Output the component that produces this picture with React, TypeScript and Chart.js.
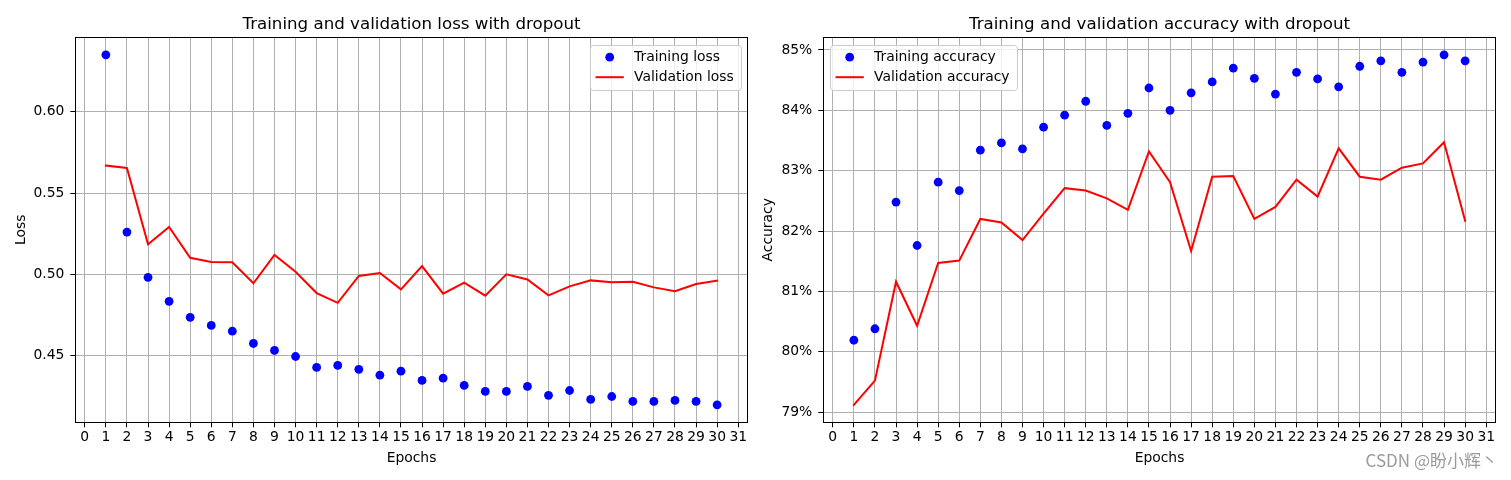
import React, { useEffect, useRef } from "react";
import { Chart, registerables } from "chart.js";

Chart.register(...registerables);

// ---------------- data ----------------
const epochs = [1, 2, 3, 4, 5, 6, 7, 8, 9, 10, 11, 12, 13, 14, 15, 16, 17, 18, 19, 20, 21, 22, 23, 24, 25, 26, 27, 28, 29, 30];

const trainLoss = [
  0.6351, 0.5261, 0.4983, 0.4835, 0.4737, 0.4687, 0.4652, 0.4576, 0.4533, 0.4496,
  0.4429, 0.4441, 0.4417, 0.4381, 0.4406, 0.4349, 0.4363, 0.4318, 0.4281, 0.4281,
  0.4312, 0.4257, 0.4287, 0.4232, 0.4250, 0.4220, 0.4220, 0.4226, 0.4220, 0.4199,
];

const valLoss = [
  0.5670, 0.5655, 0.5186, 0.5292, 0.5103, 0.5077, 0.5075, 0.4946, 0.5120, 0.5017,
  0.4886, 0.4826, 0.4991, 0.5009, 0.4909, 0.5052, 0.4882, 0.4950, 0.4870, 0.5001,
  0.4970, 0.4872, 0.4927, 0.4964, 0.4952, 0.4956, 0.4921, 0.4897, 0.4942, 0.4962,
];

const trainAcc = [
  0.8019, 0.8038, 0.8248, 0.8176, 0.8281, 0.8267, 0.8334, 0.8346, 0.8336, 0.8372,
  0.8392, 0.8415, 0.8375, 0.8395, 0.8437, 0.8400, 0.8429, 0.8447, 0.8470, 0.8453,
  0.8427, 0.8463, 0.8452, 0.8439, 0.8473, 0.8482, 0.8463, 0.8480, 0.8492, 0.8482,
];

const valAcc = [
  0.7912, 0.7952, 0.8116, 0.8043, 0.8147, 0.8151, 0.8220, 0.8214, 0.8185, 0.8229,
  0.8271, 0.8267, 0.8254, 0.8235, 0.8332, 0.8281, 0.8167, 0.8290, 0.8291, 0.8220,
  0.8240, 0.8285, 0.8257, 0.8337, 0.8290, 0.8285, 0.8305, 0.8312, 0.8347, 0.8217,
];

const epochTicks = [0, 1, 2, 3, 4, 5, 6, 7, 8, 9, 10, 11, 12, 13, 14, 15, 16, 17, 18, 19, 20, 21, 22, 23, 24, 25, 26, 27, 28, 29, 30, 31];
const lossTicks = [0.45, 0.5, 0.55, 0.6];
const accTicks = [0.79, 0.8, 0.81, 0.82, 0.83, 0.84, 0.85];

const lossTitle = "Training and validation loss with dropout";
const accTitle = "Training and validation accuracy with dropout";
const watermarkText = "CSDN @盼小辉丶";

// ---------------- style ----------------
const FONT = "'DejaVu Sans', 'Noto Sans', sans-serif";
const TICK_SIZE = 13.89;
const TITLE_SIZE = 16.67;

Chart.defaults.font.family = FONT;
Chart.defaults.font.size = TICK_SIZE;
Chart.defaults.color = "#000";

function autoRange(values: number[]): [number, number] {
  const lo = Math.min(...values);
  const hi = Math.max(...values);
  const m = (hi - lo) * 0.05;
  return [lo - m, hi + m];
}

const framePlugin = {
  id: "frame",
  afterDraw(chart: any) {
    const { ctx, chartArea: a } = chart;
    ctx.save();
    ctx.strokeStyle = "#000";
    ctx.lineWidth = 1;
    const l = Math.floor(a.left) + 0.5;
    const t = Math.floor(a.top) + 0.5;
    const r = Math.floor(a.right) + 0.5;
    const b = Math.floor(a.bottom) + 0.5;
    ctx.strokeRect(l, t, r - l, b - t);
    ctx.restore();
  },
};

const legendPlugin = {
  id: "mplLegend",
  afterDraw(chart: any, _args: any, opts: any) {
    if (!opts || !opts.corner) return;
    const { ctx, chartArea: a } = chart;
    const ds = chart.data.datasets;
    ctx.save();
    ctx.font = `${TICK_SIZE}px ${FONT}`;
    const tw = Math.max(...ds.map((d: any) => ctx.measureText(d.label).width));
    const w = Math.round(44 + tw + 7);
    const h = 45;
    const left = Math.round(opts.corner === "right" ? a.right - 7 - w : a.left + 7) + 0.5;
    const top = Math.round(a.top + 7.4) + 0.5;
    ctx.beginPath();
    (ctx as any).roundRect(left, top, w, h, 3);
    ctx.fillStyle = "rgba(255,255,255,0.8)";
    ctx.fill();
    ctx.strokeStyle = "#cccccc";
    ctx.lineWidth = 1;
    ctx.stroke();
    ds.forEach((d: any, i: number) => {
      const y = top + 11.7 + 20 * i;
      if (d.showLine === false) {
        ctx.beginPath();
        ctx.arc(left + 19.2, y, d.pointRadius, 0, Math.PI * 2);
        ctx.fillStyle = d.pointBackgroundColor;
        ctx.fill();
      } else {
        ctx.beginPath();
        ctx.moveTo(left + 5, y);
        ctx.lineTo(left + 33.3, y);
        ctx.strokeStyle = d.borderColor;
        ctx.lineWidth = d.borderWidth;
        ctx.stroke();
      }
      ctx.fillStyle = "#000";
      ctx.textAlign = "left";
      ctx.textBaseline = "middle";
      ctx.fillText(d.label, left + 43.5, y + 0.5);
    });
    ctx.restore();
  },
};

const watermarkPlugin = {
  id: "watermark",
  afterDraw(chart: any, _args: any, opts: any) {
    if (!opts || !opts.text) return;
    const ctx = chart.ctx;
    ctx.save();
    ctx.font = `17px "Noto Sans CJK SC", "DejaVu Sans", sans-serif`;
    ctx.fillStyle = "rgba(150,150,150,0.95)";
    ctx.textAlign = "right";
    ctx.textBaseline = "middle";
    ctx.fillText(opts.text, opts.x, opts.y);
    ctx.restore();
  },
};

type Panel = {
  title: string;
  train: number[];
  val: number[];
  trainLabel: string;
  valLabel: string;
  yLabel: string;
  yTicks: number[];
  yFormat: (v: number) => string;
  yAxisWidth: number;
  yTitlePad: number;
  padRight: number;
  corner: "left" | "right";
  watermark?: { text: string; x: number; y: number };
};

function makeChart(canvas: HTMLCanvasElement, p: Panel) {
  const [ymin, ymax] = autoRange([...p.train, ...p.val]);
  const [xmin, xmax] = autoRange(epochs);
  const font = { family: FONT, size: TICK_SIZE, lineHeight: 1.2 };
  return new Chart(canvas, {
    type: "line",
    data: {
      datasets: [
        {
          label: p.trainLabel,
          data: epochs.map((e, i) => ({ x: e, y: p.train[i] })),
          showLine: false,
          pointRadius: 4.4,
          pointBackgroundColor: "#0000ff",
          pointBorderColor: "#0000ff",
          pointBorderWidth: 0,
          borderColor: "#0000ff",
          backgroundColor: "#0000ff",
        },
        {
          label: p.valLabel,
          data: epochs.map((e, i) => ({ x: e, y: p.val[i] })),
          borderColor: "#ff0000",
          backgroundColor: "#ff0000",
          borderWidth: 2,
          pointRadius: 0,
          fill: false,
          tension: 0,
          borderCapStyle: "square",
        },
      ],
    },
    options: {
      responsive: false,
      animation: false,
      events: [],
      layout: { padding: { left: 0, right: p.padRight, top: 0, bottom: 0 } },
      plugins: {
        legend: { display: false },
        tooltip: { enabled: false },
        title: {
          display: true,
          text: p.title,
          fullSize: false,
          color: "#000",
          font: { family: FONT, size: TITLE_SIZE, weight: "normal", lineHeight: 1.2 },
          padding: { top: 14.5, bottom: 2.8 },
        },
        mplLegend: { corner: p.corner },
        watermark: p.watermark || {},
      } as any,
      scales: {
        x: {
          type: "linear",
          min: xmin,
          max: xmax,
          afterBuildTicks: (s: any) => {
            s.ticks = epochTicks.map((v) => ({ value: v }));
          },
          afterFit: (s: any) => {
            s.height = 57.7;
            s.paddingLeft = 0;
            s.paddingRight = 0;
          },
          ticks: {
            autoSkip: false,
            maxRotation: 0,
            minRotation: 0,
            padding: 2,
            color: "#000",
            font,
            callback: (v: any) => String(v),
          },
          grid: { color: "#b0b0b0", lineWidth: 1, tickLength: 5, tickColor: "#000", tickWidth: 1 },
          border: { display: false },
          title: { display: true, text: "Epochs", color: "#000", font, padding: { top: 0, bottom: 13.2 } },
        },
        y: {
          type: "linear",
          min: ymin,
          max: ymax,
          afterBuildTicks: (s: any) => {
            s.ticks = p.yTicks.map((v) => ({ value: v }));
          },
          afterFit: (s: any) => {
            s.width = p.yAxisWidth;
            s.paddingTop = 0;
            s.paddingBottom = 0;
          },
          ticks: {
            autoSkip: false,
            padding: 6,
            color: "#000",
            font,
            callback: (v: any) => p.yFormat(Number(v)),
          },
          grid: { color: "#b0b0b0", lineWidth: 1, tickLength: 5, tickColor: "#000", tickWidth: 1 },
          border: { display: false },
          title: { display: true, text: p.yLabel, color: "#000", font, padding: { top: p.yTitlePad, bottom: 0 } },
        },
      },
    } as any,
    plugins: [framePlugin, legendPlugin, watermarkPlugin],
  });
}

function ChartCanvas({ panel, left, width }: { panel: Panel; left: number; width: number }) {
  const ref = useRef<HTMLCanvasElement>(null);
  useEffect(() => {
    if (!ref.current) return;
    const chart = makeChart(ref.current, panel);
    return () => chart.destroy();
  }, []);
  return (
    <canvas
      ref={ref}
      width={width}
      height={480}
      style={{ position: "absolute", left, top: 0, width, height: 480 }}
    />
  );
}

const LEFT_W = 760;
const RIGHT_W = 751;

const lossPanel: Panel = {
  title: lossTitle,
  train: trainLoss,
  val: valLoss,
  trainLabel: "Training loss",
  valLabel: "Validation loss",
  yLabel: "Loss",
  yTicks: lossTicks,
  yFormat: (v) => v.toFixed(2),
  yAxisWidth: 75.3,
  yTitlePad: 13.4,
  padRight: LEFT_W - 747.7,
  corner: "right",
};

const accPanel: Panel = {
  title: accTitle,
  train: trainAcc,
  val: valAcc,
  trainLabel: "Training accuracy",
  valLabel: "Validation accuracy",
  yLabel: "Accuracy",
  yTicks: accTicks,
  yFormat: (v) => `${Math.round(v * 100)}%`,
  yAxisWidth: 63.3,
  yTitlePad: 0.2,
  padRight: RIGHT_W - (1495.7 - LEFT_W),
  corner: "left",
  watermark: { text: watermarkText, x: 1498 - LEFT_W, y: 461 },
};

export default function App() {
  return (
    <div style={{ position: "absolute", left: 0, top: 0, width: 1511, height: 480, background: "#fff" }}>
      <ChartCanvas panel={lossPanel} left={0} width={LEFT_W} />
      <ChartCanvas panel={accPanel} left={LEFT_W} width={RIGHT_W} />
    </div>
  );
}
